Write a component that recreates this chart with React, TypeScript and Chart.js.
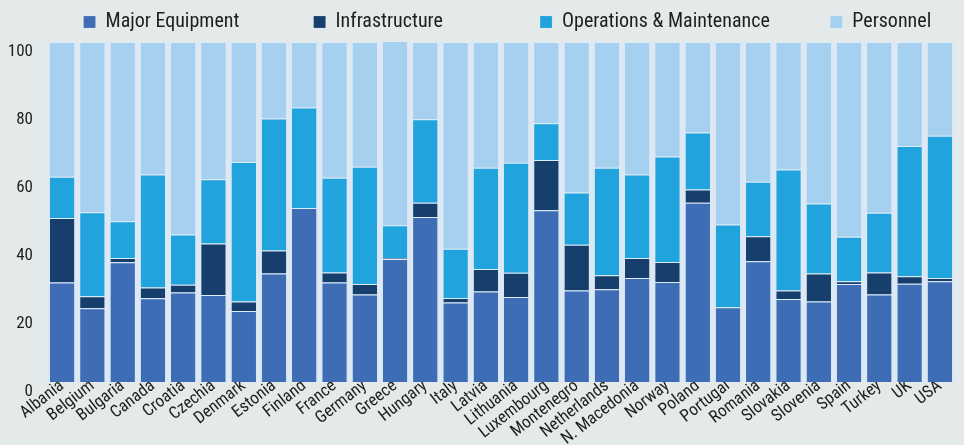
import { useEffect, useRef } from "react";
import { Chart, registerables } from "chart.js";

Chart.register(...registerables);

const countries = [
  "Albania", "Belgium", "Bulgaria", "Canada", "Croatia", "Czechia", "Denmark", "Estonia",
  "Finland", "France", "Germany", "Greece", "Hungary", "Italy", "Latvia", "Lithuania",
  "Luxembourg", "Montenegro", "Netherlands", "N. Macedonia", "Norway", "Poland", "Portugal",
  "Romania", "Slovakia", "Slovenia", "Spain", "Turkey", "UK", "USA",
];

const majorEquipment = [
  29.3, 21.7, 35.2, 24.6, 26.3, 25.6, 20.9, 31.9, 51.2, 29.3, 25.7, 36.2, 48.5, 23.4, 26.6,
  25.0, 50.5, 26.9, 27.3, 30.6, 29.4, 52.7, 22.0, 35.5, 24.4, 23.7, 28.8, 25.7, 28.9, 29.6,
];
const infrastructure = [
  18.9, 3.5, 1.3, 3.2, 2.3, 15.1, 2.8, 6.8, 0.0, 2.9, 3.1, 0.3, 4.2, 1.3, 6.6,
  7.1, 14.8, 13.5, 4.1, 5.9, 5.9, 3.9, 0.0, 7.4, 2.5, 8.2, 0.8, 6.5, 2.2, 1.0,
];
const operations = [
  12.2, 24.7, 10.8, 33.2, 14.8, 18.9, 41.0, 38.8, 29.5, 27.9, 34.5, 9.6, 24.6, 14.5, 29.8,
  32.4, 10.8, 15.3, 31.6, 24.5, 31.0, 16.8, 24.3, 16.0, 35.6, 20.6, 13.1, 17.6, 38.3, 41.8,
];
const personnel = [
  39.6, 50.1, 52.7, 39.0, 56.6, 40.4, 35.3, 22.5, 19.3, 39.9, 36.7, 54.2, 22.7, 60.8, 37.0,
  35.5, 23.9, 44.3, 37.0, 39.0, 33.7, 26.6, 53.7, 41.1, 37.5, 47.5, 57.3, 50.2, 30.6, 27.6,
];

const seriesNames = ["Major Equipment", "Infrastructure", "Operations & Maintenance", "Personnel"];
const seriesColors = ["#3f6db5", "#163f6d", "#21a3dd", "#a6d0f0"];
const yMin = 0;
const yMax = 100;
const yStep = 20;

// legend layout (widths of each legend slot, in px)
const legendSlotWidths = [229, 228, 290, 125];
const LEGEND_FONT_SIZE = 20;
const LEGEND_PADDING = 10;
const LEGEND_BOX = 12;

const FONT = "'Roboto Condensed', 'Liberation Sans Narrow', 'DejaVu Sans Condensed', sans-serif";

const plotBackground = {
  id: "plotBackground",
  beforeDatasetsDraw(chart: any) {
    const { ctx, chartArea } = chart;
    ctx.save();
    ctx.fillStyle = "#dce8f4";
    ctx.fillRect(chartArea.left, chartArea.top, chartArea.right - chartArea.left, chartArea.bottom - chartArea.top);
    ctx.restore();
  },
};

export default function App() {
  const canvasRef = useRef<HTMLCanvasElement | null>(null);

  useEffect(() => {
    if (!canvasRef.current) return;
    const values = [majorEquipment, infrastructure, operations, personnel];
    const chart = new Chart(canvasRef.current, {
      type: "bar",
      data: {
        labels: countries,
        datasets: values.map((data, i) => ({
          label: seriesNames[i],
          data,
          backgroundColor: seriesColors[i],
          borderColor: "rgba(220,238,250,0.7)",
          borderWidth: { top: 1, left: 0, right: 0, bottom: 0 },
          borderSkipped: false,
          barPercentage: 0.81,
          categoryPercentage: 1,
        })),
      },
      plugins: [plotBackground],
      options: {
        responsive: false,
        animation: false,
        layout: { padding: { top: 2, right: 9, left: 0, bottom: 0 } },
        plugins: {
          tooltip: { enabled: false },
          legend: {
            position: "top",
            align: "end",
            labels: {
              boxWidth: LEGEND_BOX,
              boxHeight: LEGEND_BOX,
              padding: LEGEND_PADDING,
              color: "#1e1e1e",
              font: { family: FONT, size: LEGEND_FONT_SIZE },
              generateLabels: (c: any) => {
                const items = Chart.defaults.plugins.legend.labels.generateLabels(c);
                const ctx = c.ctx;
                ctx.save();
                ctx.font = `${LEGEND_FONT_SIZE}px ${FONT}`;
                const sp = ctx.measureText(" ").width || 4;
                items.forEach((it: any, i: number) => {
                  const target = legendSlotWidths[i] - LEGEND_PADDING - LEGEND_BOX - LEGEND_FONT_SIZE / 2;
                  const w = ctx.measureText(it.text).width;
                  const n = Math.max(0, Math.round((target - w) / sp));
                  it.text = it.text + " ".repeat(n);
                });
                ctx.restore();
                return items;
              },
            },
          },
        },
        scales: {
          x: {
            stacked: true,
            grid: { display: false, drawTicks: false },
            border: { display: false },
            ticks: {
              autoSkip: false,
              minRotation: 38,
              maxRotation: 38,
              padding: -6,
              color: "#1e1e1e",
              font: { family: FONT, size: 17 },
            },
            afterFit: (s: any) => {
              s.height = 63;
            },
          },
          y: {
            stacked: true,
            min: yMin,
            max: yMax,
            grid: { display: false, drawTicks: false },
            border: { display: false },
            ticks: {
              stepSize: yStep,
              padding: 14,
              labelOffset: 10,
              color: "#1e1e1e",
              font: { family: FONT, size: 17 },
            },
            afterFit: (s: any) => {
              s.width = 47;
            },
          },
        },
      },
    });
    return () => chart.destroy();
  }, []);

  return (
    <div style={{ position: "absolute", left: 0, top: 0, width: 964, height: 445, background: "#e4eaea" }}>
      <canvas ref={canvasRef} width={964} height={445} style={{ display: "block" }} />
    </div>
  );
}
